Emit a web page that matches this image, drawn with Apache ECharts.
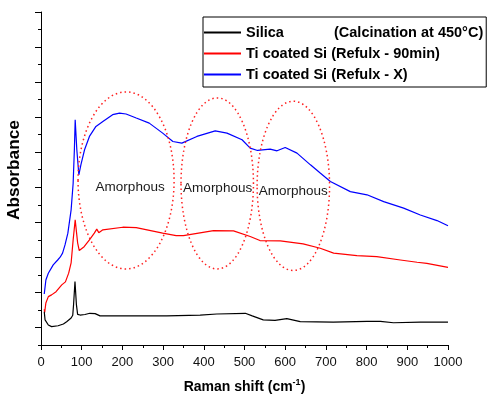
<!DOCTYPE html>
<html>
<head>
<meta charset="utf-8">
<script src="https://cdn.jsdelivr.net/npm/echarts@6/dist/echarts.min.js"></script>
<style>
  html, body { margin: 0; padding: 0; background: #fff; }
  #main { width: 487px; height: 396px; }
</style>
</head>
<body>
<div id="main"></div>
<script>
// [Raman shift (cm-1), absorbance (arb. units)]
const silica = [
  [8, 1.9], [10, 1.43], [18, 1.14], [26, 1.05], [42, 1.1], [55, 1.2], [63, 1.33], [74, 1.54],
  [78, 1.7], [80, 2.3], [83.5, 3.62], [87, 2.3], [90, 1.75], [96, 1.71], [108, 1.74], [120, 1.81],
  [133, 1.79], [145, 1.66], [194, 1.66], [309, 1.66], [391, 1.71], [432, 1.77], [502, 1.81],
  [519, 1.66], [546, 1.43], [575, 1.4], [604, 1.5], [637, 1.33], [718, 1.3], [801, 1.35],
  [834, 1.35], [866, 1.27], [932, 1.3], [1000, 1.31]
];
const tiCoated90 = [
  [8, 2.04], [9, 1.86], [12, 2.4], [18, 2.76], [26, 2.86], [37, 3.04], [51, 3.43], [60, 3.6],
  [68, 4.1], [74, 4.68], [79, 6.0], [84, 7.14], [90, 5.83], [94, 5.39], [106, 5.61], [119, 6.0],
  [131, 6.38], [137, 6.61], [142, 6.41], [152, 6.57], [201, 6.72], [234, 6.7], [299, 6.38],
  [332, 6.24], [350, 6.24], [424, 6.53], [473, 6.51], [514, 6.19], [538, 5.96], [588, 5.94],
  [644, 5.77], [686, 5.52], [719, 5.24], [776, 5.1], [825, 5.04], [883, 4.85], [924, 4.72],
  [948, 4.66], [1000, 4.43]
];
const tiCoatedX = [
  [8, 2.91], [12, 3.71], [18, 4.09], [30, 4.57], [41, 4.85], [47, 5.01], [53, 5.24], [59, 5.71],
  [66, 6.38], [74, 7.71], [79, 9.23], [82, 11.14], [84, 12.85], [88, 11.14], [93, 9.71],
  [98, 10.28], [107, 11.14], [119, 11.9], [135, 12.47], [152, 12.75], [176, 13.14], [193, 13.23],
  [209, 13.18], [234, 12.95], [266, 12.66], [299, 12.09], [324, 11.61], [346, 11.52], [383, 11.9],
  [428, 12.22], [457, 12.09], [494, 11.71], [514, 11.23], [532, 11.1], [563, 11.18], [580, 11.08],
  [600, 11.27], [629, 10.95], [662, 10.28], [686, 9.81], [711, 9.33], [760, 8.75], [801, 8.57],
  [842, 8.18], [891, 7.81], [932, 7.42], [973, 7.1], [1000, 6.8]
];

const seriesNames = ['Silica', 'Ti coated Si (Refulx - 90min)', 'Ti coated Si (Refulx - X)'];
const seriesColors = ['#000000', '#ff0000', '#0000ff'];
const yMajorTicks = [1, 3, 5, 7, 9, 11, 13, 15, 17, 19];

// amorphous regions: [centre shift, centre absorbance, half width, half height]
const regions = [[209, 9.39, 118, 5.05], [433, 9.22, 89, 4.88], [620, 9.08, 89, 4.83]];
const regionLabels = [[219, 9.0], [434, 8.97], [620, 8.77]];

const FONT = 'Liberation Sans, Arial, sans-serif';
const chart = echarts.init(document.getElementById('main'));

const option = {
  animation: false,
  grid: { left: 41, right: 39, top: 12, bottom: 51, outerBoundsMode: 'none' },
  legend: {
    orient: 'vertical',
    left: 203,
    top: 17,
    itemWidth: 37,
    itemHeight: 14,
    itemGap: 6,
    padding: [8, 3, 5, 0],
    borderColor: '#000',
    borderWidth: 1,
    data: seriesNames,
    // hide the symbol drawn on top of the legend line
    itemStyle: { color: 'rgba(0,0,0,0)', borderColor: 'rgba(0,0,0,0)', borderWidth: 0 },
    formatter: (name) =>
      name === 'Silica' ? '{n|Silica}{t|(Calcination at 450°C)}' : '{t|' + name + '}',
    textStyle: {
      fontFamily: FONT, fontSize: 14.5, fontWeight: 'bold', color: '#000',
      rich: {
        n: { width: 88, fontFamily: FONT, fontSize: 14.5, fontWeight: 'bold', color: '#000' },
        t: { fontFamily: FONT, fontSize: 14.5, fontWeight: 'bold', color: '#000' }
      }
    }
  },
  xAxis: {
    type: 'value',
    min: 0,
    max: 1000,
    interval: 100,
    name: 'Raman shift (cm{sup|-1})',
    nameLocation: 'middle',
    nameGap: 33,
    nameTextStyle: {
      fontFamily: FONT, fontSize: 14, fontWeight: 'bold', color: '#000', lineHeight: 18,
      rich: {
        sup: { fontFamily: FONT, fontSize: 9, fontWeight: 'bold', color: '#000', lineHeight: 10, verticalAlign: 'top' }
      }
    },
    axisLine: { show: true, lineStyle: { color: '#000', width: 1 } },
    axisTick: { show: true, length: 5, lineStyle: { color: '#000' } },
    minorTick: { show: true, splitNumber: 2, length: 3, lineStyle: { color: '#000' } },
    axisLabel: { fontFamily: FONT, fontSize: 13, color: '#111', margin: 11, formatter: (v) => String(v) },
    splitLine: { show: false }
  },
  yAxis: [
    {
      type: 'value',
      min: 0,
      max: 19,
      interval: 1,
      axisLine: { show: true, lineStyle: { color: '#000', width: 1 } },
      axisTick: { show: true, length: 3, lineStyle: { color: '#000' } },
      axisLabel: { show: false },
      splitLine: { show: false }
    },
    {
      type: 'value',
      position: 'left',
      min: 0,
      max: 19,
      axisLine: { show: false },
      axisTick: { show: true, length: 6, customValues: yMajorTicks, lineStyle: { color: '#000' } },
      axisLabel: { show: false },
      splitLine: { show: false }
    }
  ],
  series: [silica, tiCoated90, tiCoatedX].map((d, i) => ({
    name: seriesNames[i],
    type: 'line',
    data: d,
    symbol: 'none',
    showSymbol: false,
    color: seriesColors[i],
    lineStyle: { color: seriesColors[i], width: 1.2 },
    z: 3 - i
  }))
};

chart.setOption(option);

// annotations placed through the axes
const toPx = (p) => chart.convertToPixel({ xAxisIndex: 0, yAxisIndex: 0 }, p);
const graphics = [];
regions.forEach(([cx, cy, rx, ry]) => {
  const c = toPx([cx, cy]);
  const e = toPx([cx + rx, cy + ry]);
  graphics.push({
    type: 'ellipse',
    shape: { cx: c[0], cy: c[1], rx: e[0] - c[0], ry: c[1] - e[1] },
    style: { fill: 'none', stroke: '#ff2020', lineWidth: 1.5, lineDash: [1.5, 3] },
    z: 10
  });
});
regionLabels.forEach(([x, y]) => {
  const p = toPx([x, y]);
  graphics.push({
    type: 'text',
    x: p[0],
    y: p[1],
    style: {
      text: 'Amorphous', fontFamily: FONT, fontSize: 13.5, fill: '#1a1a1a',
      align: 'center', verticalAlign: 'middle'
    },
    z: 10
  });
});
graphics.push({
  type: 'text',
  x: 15,
  y: 170,
  rotation: Math.PI / 2,
  scaleX: 1.08,
  style: {
    text: 'Absorbance', fontFamily: FONT, fontSize: 16, fontWeight: 'bold', fill: '#000',
    align: 'center', verticalAlign: 'middle'
  },
  z: 10
});
chart.setOption({ graphic: graphics });
</script>
</body>
</html>
